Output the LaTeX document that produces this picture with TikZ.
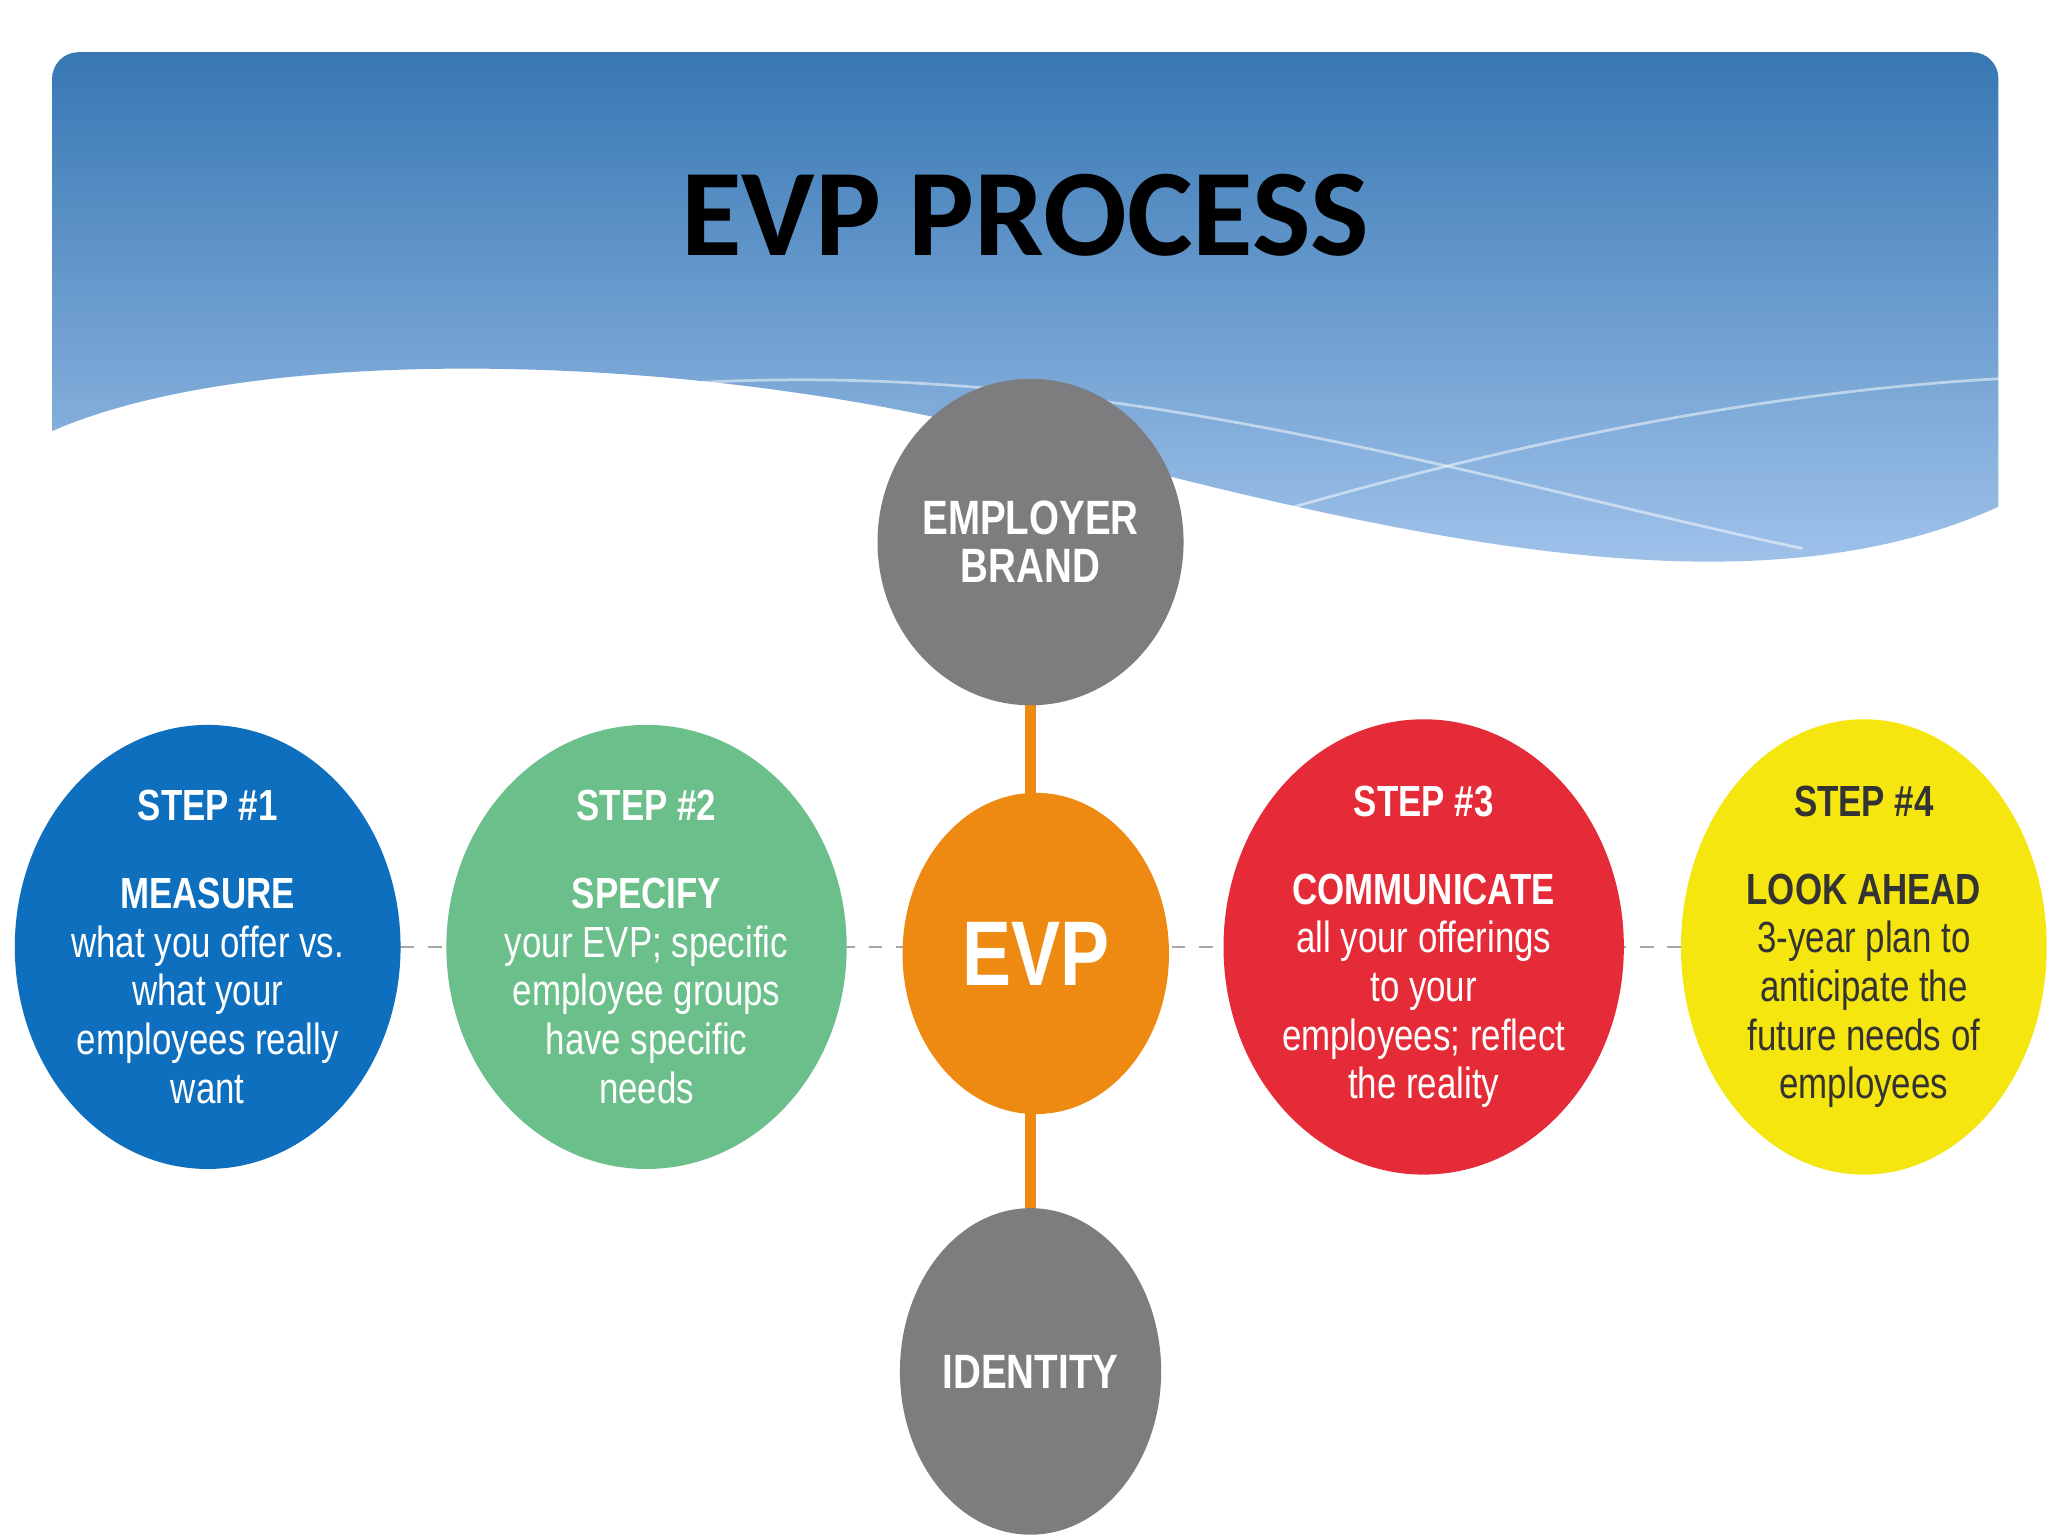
\documentclass[tikz,border=0pt]{standalone}
\usetikzlibrary{shapes.geometric}
\usepackage{fontspec}
\setmainfont{Liberation Sans}[FakeStretch=0.8]
\newfontfamily\titlefont{Carlito}
\definecolor{hdtop}{HTML}{3777B3}
\definecolor{hdbot}{HTML}{A9C9EF}
\definecolor{cgray}{HTML}{7D7C7F}
\definecolor{corange}{HTML}{EE8A12}
\definecolor{cblue}{HTML}{0E6FBE}
\definecolor{cgreen}{HTML}{6BBF8B}
\definecolor{cred}{HTML}{E52A38}
\definecolor{cyellow}{HTML}{F6E60F}
\definecolor{ctext}{HTML}{333333}
\begin{document}
\begin{tikzpicture}[
  blob/.style={ellipse, minimum width=2.8cm, minimum height=3.4cm, inner sep=0pt, align=center, font=\fontsize{9.5}{10.6}\selectfont, text=white},
  gblob/.style={ellipse, fill=cgray, minimum width=2.0cm, minimum height=2.5cm, inner sep=0pt, align=center, text=white, font=\bfseries\fontsize{10.5}{10.5}\selectfont},
  dashlink/.style={draw=gray!70, dashed, line width=0.6pt},
  stem/.style={draw=corange, line width=2.2pt}
]
\useasboundingbox (0,0) rectangle (15.68,-11.76);
\fill[white] (0,0) rectangle (15.68,-11.76);
% header
\shade[top color=hdtop, bottom color=hdbot]
  (0.4,-3.3) -- (0.4,-0.6) arc[start angle=180,end angle=90,radius=0.2] -- (15.1,-0.4)
  arc[start angle=90,end angle=0,radius=0.2] -- (15.3,-3.88)
  .. controls (13.5,-4.7) and (11,-4.2) .. (8,-3.4)
  .. controls (5.5,-2.7) and (2,-2.6) .. (0.4,-3.3) -- cycle;
\draw[white, opacity=0.5, line width=0.6pt] (4.5,-3.0) .. controls (8,-2.6) and (11,-3.6) .. (13.8,-4.2);
\draw[white, opacity=0.5, line width=0.6pt] (9.5,-4.0) .. controls (11.5,-3.4) and (13.5,-3.0) .. (15.3,-2.9);
\node[font=\titlefont\bfseries\fontsize{27}{27}\selectfont] (title) at (7.85,-1.65) {EVP PROCESS};
% connectors (drawn first, behind nodes)
\coordinate (ebc) at (7.89,-4.15);
\coordinate (idc) at (7.89,-10.5);
\coordinate (s1c) at (1.59,-7.25);
\coordinate (s4c) at (14.27,-7.25);
\draw[stem] (ebc) -- (idc);
\draw[dashlink] (s1c) -- (s4c);
% nodes
\node[gblob] (eb) at (ebc) {EMPLOYER\\BRAND};
\node[gblob] (id) at (idc) {IDENTITY};
\node[ellipse, fill=corange, minimum width=2.04cm, minimum height=2.46cm, text=white, font=\bfseries\fontsize{20}{20}\selectfont] (evp) at (7.93,-7.3) {EVP};
\node[blob, fill=cblue] (s1) at (s1c) {\textbf{STEP \#1}\\[1.7ex]\textbf{MEASURE}\\what you offer vs.\\what your\\employees really\\want};
\node[blob, fill=cgreen] (s2) at (4.95,-7.25) {\textbf{STEP \#2}\\[1.7ex]\textbf{SPECIFY}\\your EVP; specific\\employee groups\\have specific\\needs};
\node[blob, fill=cred] (s3) at (10.9,-7.25) {\textbf{STEP \#3}\\[1.7ex]\textbf{COMMUNICATE}\\all your offerings\\to your\\employees; reflect\\the reality};
\node[blob, fill=cyellow, text=ctext] (s4) at (s4c) {\textbf{STEP \#4}\\[1.7ex]\textbf{LOOK AHEAD}\\3-year plan to\\anticipate the\\future needs of\\employees};
\end{tikzpicture}
\end{document}
